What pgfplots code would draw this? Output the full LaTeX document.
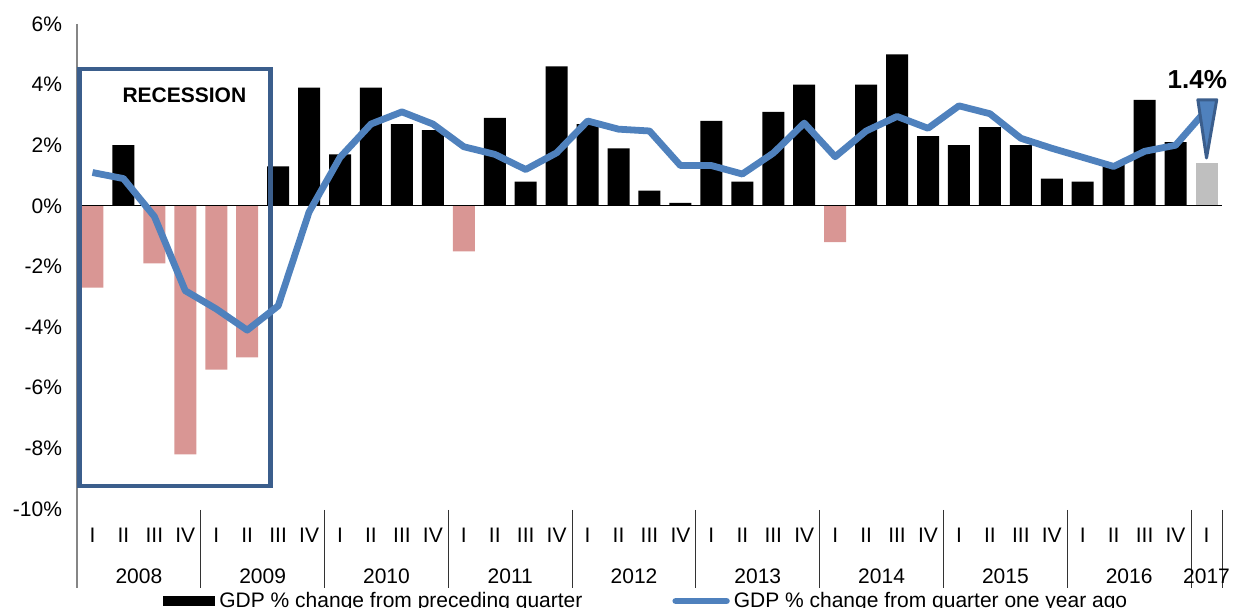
\documentclass[border=0pt]{standalone}
\usepackage{fontspec}
\setmainfont{Liberation Sans}
\usepackage{pgfplots}
\pgfplotsset{compat=1.18}
\definecolor{negbar}{HTML}{D99694}
\definecolor{lastbar}{HTML}{BFBFBF}
\definecolor{yoyline}{HTML}{4F81BD}
\definecolor{boxcol}{HTML}{3B5E8C}
\definecolor{axgray}{HTML}{868686}
\newcommand{\lblfont}{\fontsize{10.5}{12}\selectfont}
\begin{document}
\begin{tikzpicture}
\begin{axis}[
  at={(38.5pt,49.5pt)}, anchor=south west,
  scale only axis, width=572.5pt, height=242.5pt,
  xmin=-0.5, xmax=36.5, ymin=-10, ymax=6,
  clip=false,
  axis line style={draw=none},
  tick style={draw=none},
  xtick={0,...,36},
  xticklabels={I,II,III,IV,I,II,III,IV,I,II,III,IV,I,II,III,IV,I,II,III,IV,I,II,III,IV,I,II,III,IV,I,II,III,IV,I,II,III,IV,I},
  ytick={-10,-8,-6,-4,-2,0,2,4,6},
  yticklabels={-10\%,-8\%,-6\%,-4\%,-2\%,0\%,2\%,4\%,6\%},
  tick label style={font=\lblfont},
  xticklabel style={anchor=center, yshift=-13pt},
  yticklabel style={anchor=east, xshift=-4pt},
  legend columns=2,
  legend style={at={(0.0751,-0.1897)}, anchor=west, draw=none, fill=none,
    font=\lblfont, inner sep=0pt,
    /tikz/every even column/.append style={column sep=43pt}},
  legend cell align=left,
]
% positive quarter-on-quarter bars
\addplot[ybar, bar width=11pt, fill=black, draw=none,
  legend image code/.code={\fill[black] (0pt,-2.5pt) rectangle (26pt,2.5pt);}]
  coordinates {(1,2.0) (6,1.3) (7,3.9) (8,1.7) (9,3.9) (10,2.7) (11,2.5)
  (13,2.9) (14,0.8) (15,4.6) (16,2.7) (17,1.9) (18,0.5) (19,0.1) (20,2.8)
  (21,0.8) (22,3.1) (23,4.0) (25,4.0) (26,5.0) (27,2.3) (28,2.0) (29,2.6)
  (30,2.0) (31,0.9) (32,0.8) (33,1.4) (34,3.5) (35,2.1)};
\addlegendentry{GDP \% change from preceding quarter}
% negative bars
\addplot[ybar, bar width=11pt, fill=negbar, draw=none, forget plot]
  coordinates {(0,-2.7) (2,-1.9) (3,-8.2) (4,-5.4) (5,-5.0) (12,-1.5) (24,-1.2)};
% latest quarter
\addplot[ybar, bar width=11pt, fill=lastbar, draw=none, forget plot]
  coordinates {(36,1.4)};
% zero line and axis lines
\draw[black, line width=0.6pt] (axis cs:-0.5,0) -- (axis cs:36.5,0);
\draw[axgray, line width=0.6pt] (axis cs:-0.5,6) -- (axis cs:-0.5,-12.6);
\pgfplotsinvokeforeach{3.5,7.5,11.5,15.5,19.5,23.5,27.5,31.5,35.5,36.5}{
  \draw[black!80, line width=0.5pt] (axis cs:#1,-10.03) -- (axis cs:#1,-12.6);
}
% year labels
\node[font=\lblfont, inner sep=0pt] at (axis cs:1.5,-12.21) {2008};
\node[font=\lblfont, inner sep=0pt] at (axis cs:5.5,-12.21) {2009};
\node[font=\lblfont, inner sep=0pt] at (axis cs:9.5,-12.21) {2010};
\node[font=\lblfont, inner sep=0pt] at (axis cs:13.5,-12.21) {2011};
\node[font=\lblfont, inner sep=0pt] at (axis cs:17.5,-12.21) {2012};
\node[font=\lblfont, inner sep=0pt] at (axis cs:21.5,-12.21) {2013};
\node[font=\lblfont, inner sep=0pt] at (axis cs:25.5,-12.21) {2014};
\node[font=\lblfont, inner sep=0pt] at (axis cs:29.5,-12.21) {2015};
\node[font=\lblfont, inner sep=0pt] at (axis cs:33.5,-12.21) {2016};
\node[font=\lblfont, inner sep=0pt] at (axis cs:36,-12.21) {2017};
% recession box
\draw[boxcol, line width=2.3pt] (axis cs:-0.42,4.52) rectangle (axis cs:5.75,-9.24);
\node[font=\fontsize{10.5}{12}\selectfont\bfseries, inner sep=0pt] at (axis cs:2.97,3.65) {RECESSION};
% year-over-year line
\addplot[yoyline, line width=3.4pt, line join=round, mark=none,
  legend image code/.code={\draw[yoyline, line width=3.4pt, line cap=round] (1.7pt,0pt) -- (27pt,0pt);}]
  coordinates {(0,1.1) (1,0.9) (2,-0.35) (3,-2.8) (4,-3.4) (5,-4.1) (6,-3.3)
  (7,-0.2) (8,1.6) (9,2.7) (10,3.1) (11,2.7) (12,1.95) (13,1.7) (14,1.2)
  (15,1.75) (16,2.8) (17,2.53) (18,2.47) (19,1.33) (20,1.33) (21,1.05)
  (22,1.74) (23,2.73) (24,1.62) (25,2.47) (26,2.95) (27,2.56) (28,3.3)
  (29,3.04) (30,2.23) (31,1.9) (32,1.6) (33,1.3) (34,1.8) (35,2.0) (36,3.17)};
\addlegendentry{GDP \% change from quarter one year ago}
% callout
\filldraw[fill=yoyline, draw=boxcol, line width=1.5pt, line join=round]
  (axis cs:35.72,3.5) -- (axis cs:36.33,3.5) -- (axis cs:36.0,1.58) -- cycle;
\node[font=\fontsize{13}{15}\selectfont\bfseries, inner sep=0pt] at (axis cs:35.70,4.17) {1.4\%};
\end{axis}
\pgfresetboundingbox
\path[use as bounding box] (0,0) rectangle (616.5pt,304pt);
\end{tikzpicture}
\end{document}
